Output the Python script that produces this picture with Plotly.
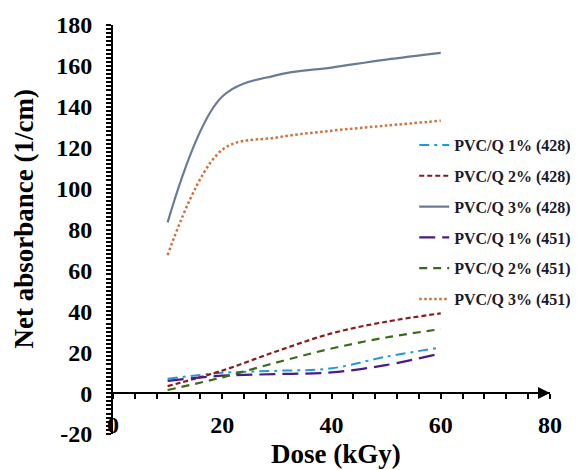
import plotly.graph_objects as go

dose = [10, 20, 30, 40, 50, 60]
q1_428 = [7.0, 9.9, 10.9, 12.1, 17.8, 22.3]
q2_428 = [3.4, 11.0, 20.5, 29.2, 34.9, 39.0]
q3_428 = [83.5, 145.0, 155.5, 159.2, 163.1, 166.4]
q1_451 = [6.0, 8.5, 9.3, 10.1, 13.7, 19.4]
q2_451 = [1.5, 7.7, 15.0, 21.8, 27.2, 31.3]
q3_451 = [67.5, 119.0, 125.0, 128.3, 130.8, 133.2]

names = ["PVC/Q 1% (428)", "PVC/Q 2% (428)", "PVC/Q 3% (428)",
         "PVC/Q 1% (451)", "PVC/Q 2% (451)", "PVC/Q 3% (451)"]

x_ticks = [0, 20, 40, 60, 80]
x_tick_labels = ["0", "20", "40", "60", "80"]
y_ticks = [-20, 0, 20, 40, 60, 80, 100, 120, 140, 160, 180]
y_tick_labels = ["-20", "0", "20", "40", "60", "80", "100", "120", "140", "160", "180"]

x_title = "Dose (kGy)"
y_title = "Net absorbance (1/cm)"

series = [q1_428, q2_428, q3_428, q1_451, q2_451, q3_451]
styles = [
    dict(color="#1f9ad8", width=2, dash="10px,5px,3px,5px"),
    dict(color="#8b1a1a", width=2.2, dash="5px,3px"),
    dict(color="#6c7b95", width=2.2, dash="solid"),
    dict(color="#4a1c88", width=2.2, dash="16px,7px"),
    dict(color="#3a6b18", width=2.2, dash="8px,6px"),
    dict(color="#d2703a", width=2.5, dash="2.5px,2.5px"),
]

FONT = "Liberation Serif"

fig = go.Figure()
for i, (nm, ys, st) in enumerate(zip(names, series, styles)):
    fig.add_trace(go.Scatter(
        x=dose, y=ys, name=nm, mode="lines", legendgroup=f"g{i}",
        line=dict(shape="spline", smoothing=1.0, **st),
    ))

# arrow head at the end of the x axis
fig.add_annotation(x=80, y=0, ax=76, ay=0, xref="x", yref="y", axref="x", ayref="y",
                   text="", showarrow=True, arrowhead=2, arrowsize=1.2, arrowwidth=2,
                   arrowcolor="black", standoff=0)

# axis titles
fig.add_annotation(text=x_title, xref="paper", yref="paper", x=0.5, y=0, xshift=4, yshift=-20,
                   xanchor="center", yanchor="middle", showarrow=False,
                   font=dict(family=FONT, size=27, color="black", weight="bold"))
fig.add_annotation(text=y_title, xref="paper", yref="paper", x=0, y=0.5, xshift=-90, yshift=10,
                   xanchor="center", yanchor="middle", showarrow=False, textangle=-90,
                   font=dict(family=FONT, size=27, color="black", weight="bold"))

fig.update_layout(
    width=579, height=470,
    margin=dict(l=113, r=29, t=25, b=36, autoexpand=False),
    paper_bgcolor="white", plot_bgcolor="white",
    font=dict(family=FONT, color="black"),
    showlegend=True,
    legend=dict(
        x=1.06, y=0.748, xanchor="right", yanchor="top",
        font=dict(family=FONT, size=16, color="#1a1a2a", weight="bold"),
        tracegroupgap=7, bgcolor="rgba(0,0,0,0)",
    ),
    xaxis=dict(
        range=[0, 80], anchor="free", position=0.1,
        tickvals=x_ticks, ticktext=x_tick_labels,
        showline=True, linecolor="black", linewidth=2,
        ticks="outside", ticklen=5, tickwidth=2, tickcolor="black",
        minor=dict(dtick=4, ticks="outside", ticklen=5, tickwidth=1.5, tickcolor="black", showgrid=False),
        showgrid=False, zeroline=False, ticklabelstandoff=5,
        tickfont=dict(family=FONT, size=24, color="black", weight="bold"),
    ),
    yaxis=dict(
        range=[-20, 180], domain=[0, 1],
        tickvals=y_ticks, ticktext=y_tick_labels,
        showline=True, linecolor="black", linewidth=2,
        ticks="outside", ticklen=5, tickwidth=2, tickcolor="black",
        minor=dict(dtick=2, ticks="outside", ticklen=5, tickwidth=1.5, tickcolor="black", showgrid=False),
        showgrid=False, zeroline=False, ticklabelstandoff=9,
        tickfont=dict(family=FONT, size=24, color="black", weight="bold"),
    ),
)

fig.write_html("out.html", config={"displayModeBar": False},
               post_script="document.body.style.margin='0';")
